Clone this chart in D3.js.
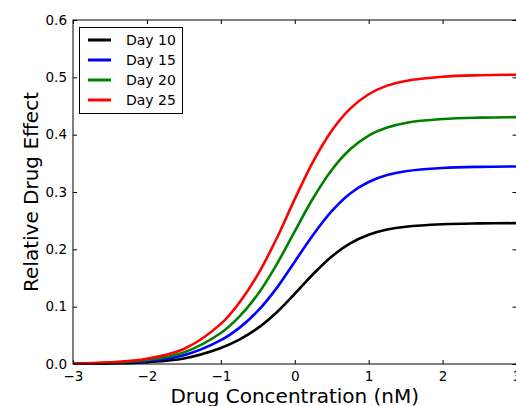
<!DOCTYPE html>
<html>
<head>
<meta charset="UTF-8">
<title>Drug effect</title>
<script src="https://cdn.jsdelivr.net/npm/d3@7"></script>
<style>
	body { margin: 0; background: #fff; }
	text { font-family: "DejaVu Sans", sans-serif; }
</style>
</head>
<body>
	<div id="chart"></div>
	<script type="text/javascript">
		// values
		var conc = [-3, -2.5, -2, -1.5, -1, -0.75, -0.5, -0.25, 0, 0.25, 0.5, 0.75, 1, 1.25, 1.5, 2, 2.5, 3];
		var day10 = [0.0004, 0.0011, 0.0033, 0.0097, 0.0280, 0.0425, 0.0625, 0.0895, 0.1225, 0.1570, 0.1875, 0.2105, 0.2255, 0.2345, 0.2395, 0.2438, 0.2452, 0.2457];
		var day15 = [0.0006, 0.0017, 0.0052, 0.0152, 0.0415, 0.0630, 0.0925, 0.1315, 0.1785, 0.2255, 0.2665, 0.2975, 0.3175, 0.3295, 0.3362, 0.3418, 0.3439, 0.3446];
		var day20 = [0.0008, 0.0023, 0.0069, 0.0202, 0.0540, 0.0825, 0.1215, 0.1725, 0.2315, 0.2895, 0.3385, 0.3745, 0.3985, 0.4125, 0.4205, 0.4272, 0.4297, 0.4306];
		var day25 = [0.0010, 0.0030, 0.0091, 0.0262, 0.0700, 0.1070, 0.1560, 0.2175, 0.2875, 0.3535, 0.4070, 0.4455, 0.4705, 0.4855, 0.4937, 0.5010, 0.5036, 0.5045];
		var seriesNames = ["Day 10", "Day 15", "Day 20", "Day 25"];
		var seriesColors = ["#000000", "#0000ff", "#008000", "#ff0000"];
		var xTicks = [-3, -2, -1, 0, 1, 2, 3];
		var yTicks = [0.0, 0.1, 0.2, 0.3, 0.4, 0.5, 0.6];

		var series = [day10, day15, day20, day25];

		var W = 516, H = 406;
		var margin = { top : 20, right : -0.5, bottom : 42, left : 73 };
		var width = W - margin.left - margin.right;
		var height = H - margin.top - margin.bottom;

		var svg = d3.select("#chart").append("svg").attr("width", W).attr("height", H);
		var g = svg.append("g").attr("transform", "translate(" + margin.left + "," + margin.top + ")");

		var x = d3.scaleLinear().domain([ -3, 3 ]).range([ 0, width ]);
		var y = d3.scaleLinear().domain([ 0, 0.6 ]).range([ height, 0 ]);

		var fmtX = function(d) { return d < 0 ? "\u2212" + Math.abs(d) : "" + d; };
		var fmtY = d3.format(".1f");

		// axes, ticks pointing inward (bottom / left with labels, top / right without)
		var gx = g.append("g").attr("transform", "translate(0," + height + ")")
			.call(d3.axisBottom(x).tickValues(xTicks).tickFormat(fmtX).tickSizeInner(-4).tickSizeOuter(0).tickPadding(7));
		var gy = g.append("g")
			.call(d3.axisLeft(y).tickValues(yTicks).tickFormat(fmtY).tickSizeInner(-4).tickSizeOuter(0).tickPadding(6));
		var gt = g.append("g")
			.call(d3.axisTop(x).tickValues(xTicks).tickFormat("").tickSizeInner(-4).tickSizeOuter(0));
		var gr = g.append("g").attr("transform", "translate(" + width + ",0)")
			.call(d3.axisRight(y).tickValues(yTicks).tickFormat("").tickSizeInner(-4).tickSizeOuter(0));

		[gx, gy, gt, gr].forEach(function(a) {
			a.select(".domain").remove();
			a.selectAll(".tick line").attr("stroke", "#000").attr("stroke-width", 1);
			a.selectAll(".tick text").attr("fill", "#000").style("font-size", "13.5px").style("font-family", "DejaVu Sans");
		});

		// the lines
		var line = d3.line().x(function(d, i) { return x(conc[i]); }).y(function(d) { return y(d); }).curve(d3.curveCatmullRom);

		series.forEach(function(s, i) {
			g.append("path").datum(s).attr("fill", "none").attr("stroke", seriesColors[i]).attr("stroke-width", 2.6).attr("d", line);
		});

		// frame
		g.append("rect").attr("x", 0).attr("y", 0).attr("width", width).attr("height", height)
			.attr("fill", "none").attr("stroke", "#000").attr("stroke-width", 1);

		// axis labels
		svg.append("text").attr("x", margin.left + x(0)).attr("y", 403).attr("text-anchor", "middle")
			.style("font-size", "20px").text("Drug Concentration (nM)");
		svg.append("text").attr("transform", "translate(38," + (margin.top + height / 2) + ") rotate(-90)")
			.attr("text-anchor", "middle").style("font-size", "20px").text("Relative Drug Effect");

		// legend
		var lg = svg.append("g").attr("transform", "translate(79.5,27.5)");
		lg.append("rect").attr("width", 103).attr("height", 86).attr("fill", "#fff").attr("stroke", "#000").attr("stroke-width", 1);
		seriesNames.forEach(function(name, i) {
			var yy = 12.5 + i * 20;
			lg.append("line").attr("x1", 8.5).attr("x2", 31.5).attr("y1", yy).attr("y2", yy)
				.attr("stroke", seriesColors[i]).attr("stroke-width", 3);
			lg.append("text").attr("x", 46.5).attr("y", yy).attr("dy", "0.35em").style("font-size", "14px").text(name);
		});
	</script>
</body>
</html>
